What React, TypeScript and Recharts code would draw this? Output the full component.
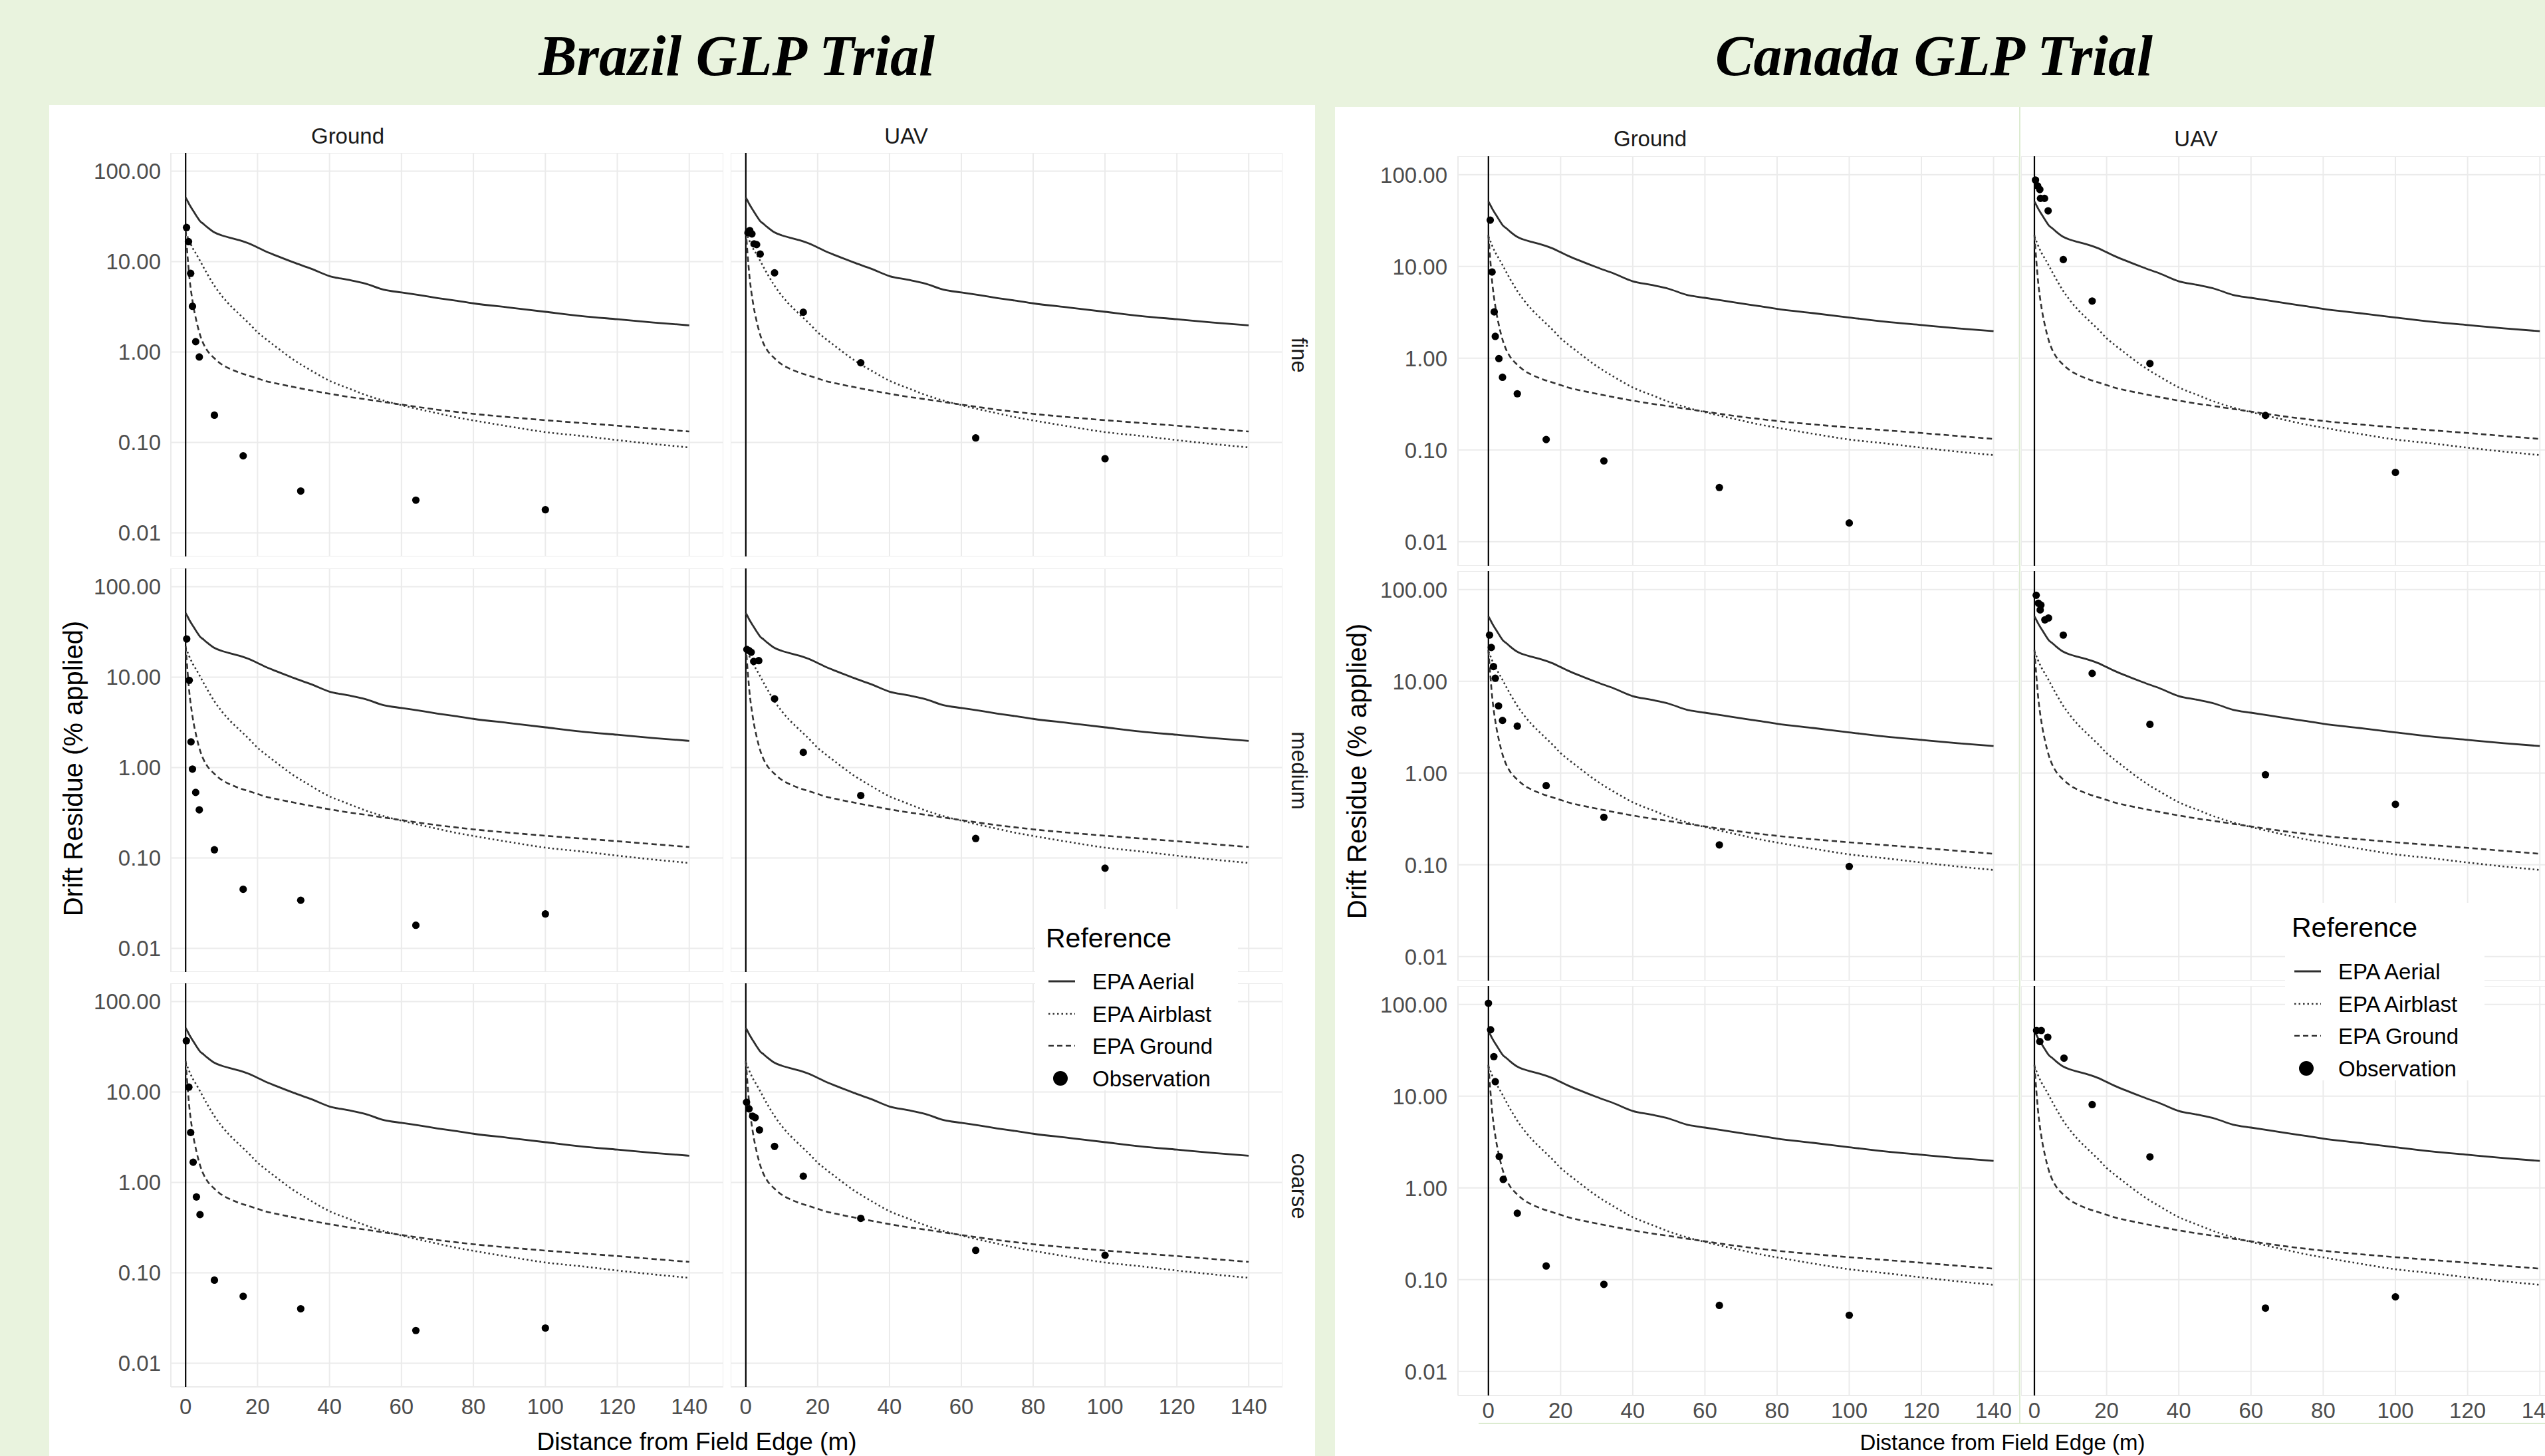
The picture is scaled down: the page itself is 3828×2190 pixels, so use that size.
import React from "react";
import {
    CartesianGrid,
    ComposedChart,
    Line,
    ReferenceLine,
    Scatter,
    XAxis,
    YAxis,
} from "recharts";

// EPA reference curves (% applied) by distance from field edge (m)
const refDistance = [0, 0.5, 1, 2, 3, 4, 5, 6, 8, 10, 12, 15, 18, 20, 22, 25, 30, 35, 40, 45, 50, 55, 60, 65, 70, 75, 80, 90, 100, 110, 120, 130, 140];
const epaAerial = [51, 47, 43, 37, 32, 28, 26, 24, 21, 19.5, 18.5, 17.2, 15.6, 14.3, 13.1, 11.7, 9.8, 8.3, 6.9, 6.3, 5.7, 4.9, 4.55, 4.25, 3.95, 3.7, 3.45, 3.1, 2.78, 2.5, 2.3, 2.12, 1.97];
const epaAirblast = [21, 19, 17, 14, 12, 10.2, 8.6, 7.3, 5.4, 4.2, 3.4, 2.6, 2.0, 1.65, 1.42, 1.15, 0.82, 0.62, 0.48, 0.4, 0.335, 0.29, 0.258, 0.232, 0.21, 0.19, 0.175, 0.15, 0.13, 0.118, 0.106, 0.096, 0.088];
const epaGround = [22, 12, 7, 3.5, 2.2, 1.55, 1.22, 1.04, 0.85, 0.73, 0.66, 0.59, 0.54, 0.51, 0.48, 0.45, 0.41, 0.375, 0.345, 0.32, 0.3, 0.28, 0.262, 0.245, 0.23, 0.218, 0.207, 0.19, 0.176, 0.164, 0.153, 0.142, 0.132];

// observations, Brazil
const brFineGroundX = [0.25, 0.8, 1.4, 1.9, 2.8, 3.8, 8, 16, 32, 64, 100];
const brFineGroundY = [23.8, 16.6, 7.4, 3.2, 1.3, 0.88, 0.2, 0.071, 0.029, 0.023, 0.018];
const brFineUavX = [0.6, 1.1, 1.7, 2.3, 3, 4, 8, 16, 32, 64, 100];
const brFineUavY = [20.8, 22, 20.2, 15.7, 15.4, 12.1, 7.5, 2.75, 0.76, 0.112, 0.066];
const brMediumGroundX = [0.3, 1, 1.5, 1.9, 2.8, 3.8, 8, 16, 32, 64, 100];
const brMediumGroundY = [26.4, 9.2, 1.92, 0.96, 0.53, 0.34, 0.123, 0.045, 0.034, 0.018, 0.024];
const brMediumUavX = [0.3, 0.9, 1.5, 2.2, 3.6, 8, 16, 32, 64, 100];
const brMediumUavY = [20.2, 19.6, 18.8, 14.9, 15.2, 5.75, 1.47, 0.49, 0.164, 0.077];
const brCoarseGroundX = [0.2, 0.9, 1.4, 2.1, 3, 4, 8, 16, 32, 64, 100];
const brCoarseGroundY = [36.8, 11.3, 3.56, 1.67, 0.69, 0.44, 0.083, 0.055, 0.04, 0.023, 0.0245];
const brCoarseUavX = [0.2, 0.9, 1.9, 2.6, 3.8, 8, 16, 32, 64, 100];
const brCoarseUavY = [7.7, 6.5, 5.4, 5.2, 3.8, 2.5, 1.17, 0.4, 0.177, 0.156];

// observations, Canada
const caFineGroundX = [0.5, 1, 1.6, 1.9, 2.9, 3.9, 8, 16, 32, 64, 100];
const caFineGroundY = [32, 8.7, 3.2, 1.73, 0.99, 0.62, 0.41, 0.13, 0.076, 0.039, 0.016];
const caFineUavX = [0.3, 0.9, 1.5, 1.7, 2.8, 3.8, 8, 16, 32, 64, 100];
const caFineUavY = [87.5, 75.4, 69, 55.2, 55.2, 40.4, 11.9, 4.2, 0.875, 0.238, 0.057];
const caMediumGroundX = [0.3, 0.8, 1.4, 1.9, 2.8, 3.9, 8, 16, 32, 64, 100];
const caMediumGroundY = [31.9, 23.4, 14.5, 10.8, 5.4, 3.75, 3.25, 0.73, 0.33, 0.165, 0.096];
const caMediumUavX = [0.5, 1.1, 1.6, 1.8, 2.9, 3.9, 8, 16, 32, 64, 100];
const caMediumUavY = [86.7, 71, 60, 67.8, 46.8, 49, 31.9, 12.2, 3.4, 0.96, 0.457];
const caCoarseGroundX = [0, 0.6, 1.5, 1.9, 3, 4.1, 8, 16, 32, 64, 100];
const caCoarseGroundY = [103, 53, 27, 14.4, 2.2, 1.24, 0.53, 0.141, 0.089, 0.0525, 0.041];
const caCoarseUavX = [0.6, 1.5, 1.9, 3.7, 8.2, 16, 32, 64, 100];
const caCoarseUavY = [52, 39.4, 52, 44, 26, 8.1, 2.18, 0.049, 0.065];

const xTicks = [0, 20, 40, 60, 80, 100, 120, 140];
const yTicks = [0.01, 0.1, 1, 10, 100];
const yDomain: [number, number] = [0.00548, 159];
const facetLabels = ["fine", "medium", "coarse"];
const methodLabels = ["Ground", "UAV"];
const legendLabels = ["EPA Aerial", "EPA Airblast", "EPA Ground", "Observation"];

const refData = refDistance.map((x, i) => ({
    x,
    aerial: epaAerial[i],
    airblast: epaAirblast[i],
    ground: epaGround[i],
}));

const toPoints = (xs: number[], ys: number[]) => xs.map((x, i) => ({ x, y: ys[i] }));

const SANS = '"Liberation Sans", Arial, sans-serif';
const tickStyle = { fontSize: 33, fill: "#4d4d4d", fontFamily: SANS };

type Col = { x0: number; ppu: number; left: number; right: number };

const brazilCols: Col[] = [
    { x0: 279.2, ppu: 5.411, left: 257, right: 1088 },
    { x0: 1121.8, ppu: 5.403, left: 1099, right: 1929 },
];
const brazilRows = [257, 882, 1506.6];
const canadaCols: Col[] = [
    { x0: 2238.8, ppu: 5.427, left: 2193, right: 3036 },
    { x0: 3060, ppu: 5.43, left: 3040, right: 3870 },
];
const canadaRows = [262.5, 886.6, 1511.3];

const dotShape = (p: any) => <circle cx={p.cx} cy={p.cy} r={5.6} fill="#000" />;

type PanelProps = {
    col: Col;
    y100: number;
    dec: number;
    points: { x: number; y: number }[];
    showY: boolean;
    showX: boolean;
    yTickMargin: number;
    xTickMargin: number;
};

function Panel({ col, y100, dec, points, showY, showX, yTickMargin, xTickMargin }: PanelProps) {
    const yAxisW = showY ? 200 : 0;
    const xAxisH = showX ? 70 : 0;
    const plotTop = y100 - 0.2017 * dec;
    const plotH = 4.4629 * dec;
    const w = col.right - col.left + yAxisW;
    const h = plotH + xAxisH;
    const xDomain: [number, number] = [(col.left - col.x0) / col.ppu, (col.right - col.x0) / col.ppu];

    return (
        <div style={{ position: "absolute", left: col.left - yAxisW, top: plotTop, width: w, height: h }}>
            <ComposedChart width={w} height={h} margin={{ top: 0, right: 0, bottom: 0, left: 0 }}>
                <CartesianGrid stroke="#ebebeb" strokeWidth={2} />
                <XAxis
                    type="number"
                    dataKey="x"
                    domain={xDomain}
                    allowDataOverflow
                    ticks={xTicks}
                    interval={0}
                    hide={!showX}
                    height={xAxisH}
                    axisLine={false}
                    tickLine={false}
                    tickSize={0}
                    tickMargin={xTickMargin}
                    tick={tickStyle}
                />
                <YAxis
                    type="number"
                    scale="log"
                    domain={yDomain}
                    allowDataOverflow
                    ticks={yTicks}
                    interval={0}
                    hide={!showY}
                    width={yAxisW}
                    axisLine={false}
                    tickLine={false}
                    tickSize={0}
                    tickMargin={yTickMargin}
                    tick={tickStyle}
                    tickFormatter={(v: number) => v.toFixed(2)}
                />
                <ReferenceLine x={0} stroke="#000" strokeWidth={2.2} />
                <Line data={refData} dataKey="aerial" type="monotone" stroke="#2e2e2e" strokeWidth={2.8} dot={false} activeDot={false} isAnimationActive={false} />
                <Line data={refData} dataKey="airblast" type="monotone" stroke="#333" strokeWidth={2.6} strokeDasharray="2.5 4" dot={false} activeDot={false} isAnimationActive={false} />
                <Line data={refData} dataKey="ground" type="monotone" stroke="#333" strokeWidth={2.6} strokeDasharray="8 5" dot={false} activeDot={false} isAnimationActive={false} />
                <Scatter data={points} dataKey="y" shape={dotShape} isAnimationActive={false} />
            </ComposedChart>
        </div>
    );
}

const Label = ({ text, x, y, size, color = "#1a1a1a", rotate = 0, family = SANS, style = {} }: any) => (
    <div
        style={{
            position: "absolute",
            left: x,
            top: y,
            transform: `translate(-50%, -50%) rotate(${rotate}deg)`,
            fontSize: size,
            lineHeight: 1,
            color,
            fontFamily: family,
            whiteSpace: "nowrap",
            ...style,
        }}
    >
        {text}
    </div>
);

function LegendKey({ kind }: { kind: number }) {
    return (
        <svg width={44} height={26} style={{ position: "absolute", left: 0, top: -13 }}>
            {kind === 0 && <line x1={2} x2={42} y1={13} y2={13} stroke="#2e2e2e" strokeWidth={2.8} />}
            {kind === 1 && <line x1={2} x2={42} y1={13} y2={13} stroke="#333" strokeWidth={2.6} strokeDasharray="2.5 4" />}
            {kind === 2 && <line x1={2} x2={42} y1={13} y2={13} stroke="#333" strokeWidth={2.6} strokeDasharray="8 5" />}
            {kind === 3 && <circle cx={20} cy={13} r={11} fill="#000" />}
        </svg>
    );
}

function RefLegend({ box, titleX, titleY, keyX, textX, rows }: any) {
    return (
        <>
            <div style={{ position: "absolute", left: box[0], top: box[1], width: box[2], height: box[3], background: "#fff" }} />
            <div style={{ position: "absolute", left: titleX, top: titleY - 20, fontSize: 41, lineHeight: 1, color: "#000", fontFamily: SANS }}>
                Reference
            </div>
            {legendLabels.map((lab, i) => (
                <React.Fragment key={lab}>
                    <div style={{ position: "absolute", left: keyX, top: rows[i] }}>
                        <LegendKey kind={i} />
                    </div>
                    <div style={{ position: "absolute", left: textX, top: rows[i] - 16, fontSize: 33, lineHeight: 1, color: "#000", fontFamily: SANS }}>
                        {lab}
                    </div>
                </React.Fragment>
            ))}
        </>
    );
}

const brazilPoints = [
    [toPoints(brFineGroundX, brFineGroundY), toPoints(brFineUavX, brFineUavY)],
    [toPoints(brMediumGroundX, brMediumGroundY), toPoints(brMediumUavX, brMediumUavY)],
    [toPoints(brCoarseGroundX, brCoarseGroundY), toPoints(brCoarseUavX, brCoarseUavY)],
];
const canadaPoints = [
    [toPoints(caFineGroundX, caFineGroundY), toPoints(caFineUavX, caFineUavY)],
    [toPoints(caMediumGroundX, caMediumGroundY), toPoints(caMediumUavX, caMediumUavY)],
    [toPoints(caCoarseGroundX, caCoarseGroundY), toPoints(caCoarseUavX, caCoarseUavY)],
];

export default function App() {
    return (
        <div
            style={{
                position: "fixed",
                left: 0,
                top: 0,
                width: 3828,
                height: 2190,
                overflow: "hidden",
                background: "#e9f3de",
                fontFamily: SANS,
            }}
        >
            {/* white plot backgrounds */}
            <div style={{ position: "absolute", left: 74, top: 158, width: 1904, height: 2040, background: "#fff" }} />
            <div style={{ position: "absolute", left: 2008, top: 161, width: 1830, height: 2040, background: "#fff" }} />
            <div style={{ position: "absolute", left: 3037, top: 161, width: 2, height: 1980, background: "#dcebd0" }} />
            <div style={{ position: "absolute", left: 2224, top: 2140, width: 1610, height: 2, background: "#dcebd0" }} />

            <Label text="Brazil GLP Trial" x={1108} y={84} size={86} color="#000"
                family='"Liberation Serif", "Times New Roman", serif' style={{ fontWeight: 700, fontStyle: "italic" }} />
            <Label text="Canada GLP Trial" x={2909} y={84} size={86} color="#000"
                family='"Liberation Serif", "Times New Roman", serif' style={{ fontWeight: 700, fontStyle: "italic" }} />

            {brazilRows.map((y100, r) =>
                brazilCols.map((col, c) => (
                    <Panel
                        key={`b${r}${c}`}
                        col={col}
                        y100={y100}
                        dec={136}
                        points={brazilPoints[r][c]}
                        showY={c === 0}
                        showX={r === 2}
                        yTickMargin={15}
                        xTickMargin={18}
                    />
                ))
            )}
            {canadaRows.map((y100, r) =>
                canadaCols.map((col, c) => (
                    <Panel
                        key={`c${r}${c}`}
                        col={col}
                        y100={y100}
                        dec={138}
                        points={canadaPoints[r][c]}
                        showY={c === 0}
                        showX={r === 2}
                        yTickMargin={16}
                        xTickMargin={11}
                    />
                ))
            )}

            {/* strip labels */}
            <Label text={methodLabels[0]} x={523} y={204} size={33} />
            <Label text={methodLabels[1]} x={1363} y={204} size={33} />
            <Label text={methodLabels[0]} x={2482} y={208} size={33} />
            <Label text={methodLabels[1]} x={3303} y={208} size={33} />
            {facetLabels.map((f, i) => (
                <Label key={f} text={f} x={1954} y={brazilRows[i] + 277} size={33} rotate={90} />
            ))}

            {/* axis titles */}
            <Label text="Drift Residue (% applied)" x={110} y={1156} size={40} color="#000" rotate={-90} />
            <Label text="Drift Residue (% applied)" x={2041} y={1160} size={40} color="#000" rotate={-90} />
            <Label text="Distance from Field Edge (m)" x={1048} y={2168} size={37} color="#000" />
            <Label text="Distance from Field Edge (m)" x={3012} y={2169} size={33} color="#000" />

            <RefLegend box={[1557, 1367, 305, 273]} titleX={1573} titleY={1411} keyX={1575} textX={1643} rows={[1476, 1525, 1573, 1622]} />
            <RefLegend box={[3437, 1358, 300, 267]} titleX={3447} titleY={1395} keyX={3449} textX={3517} rows={[1461, 1510, 1558, 1607]} />
        </div>
    );
}
